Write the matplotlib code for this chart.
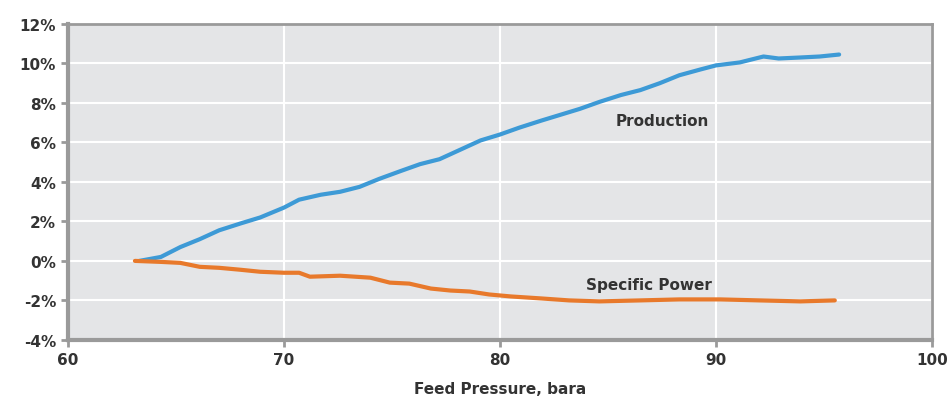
import numpy as np
import matplotlib.pyplot as plt

# feed pressure (bara) and % change
prod_x = [63.3, 64.3, 65.2, 66.1, 67.0, 68.0, 68.9, 70.0, 70.7, 71.7, 72.6, 73.5,
          74.4, 75.4, 76.3, 77.2, 78.1, 79.1, 80.0, 80.9, 81.9, 82.8, 83.7, 84.6,
          85.6, 86.5, 87.4, 88.3, 89.3, 90.0, 91.1, 92.2, 92.9, 93.9, 94.8, 95.7]
prod_y = [0.0, 0.2, 0.7, 1.1, 1.55, 1.9, 2.2, 2.7, 3.1, 3.35, 3.5, 3.75,
          4.15, 4.55, 4.9, 5.15, 5.6, 6.1, 6.4, 6.75, 7.1, 7.4, 7.7, 8.05,
          8.4, 8.65, 9.0, 9.4, 9.7, 9.9, 10.05, 10.35, 10.25, 10.3, 10.35, 10.45]

power_x = [63.1, 64.3, 65.2, 66.1, 67.0, 68.0, 68.9, 70.0, 70.7, 71.2, 72.6, 74.0,
           74.9, 75.8, 76.8, 77.7, 78.6, 79.5, 80.5, 81.9, 83.2, 84.6, 86.5, 88.3,
           90.2, 92.0, 93.9, 95.5]
power_y = [0.0, -0.05, -0.1, -0.3, -0.35, -0.45, -0.55, -0.6, -0.6, -0.8, -0.75, -0.85,
           -1.1, -1.15, -1.4, -1.5, -1.55, -1.7, -1.8, -1.9, -2.0, -2.05, -2.0, -1.95,
           -1.95, -2.0, -2.05, -2.0]

x_ticks = [60, 70, 80, 90, 100]
y_ticks = [-4, -2, 0, 2, 4, 6, 8, 10, 12]

fig = plt.figure(figsize=(9.52, 4.02), dpi=100)
ax = fig.add_axes([0.0714, 0.152, 0.9076, 0.786])
ax.set_facecolor("#e4e5e7")

ax.plot(prod_x, prod_y, color="#3d9ad6", lw=3, solid_capstyle="round", zorder=3)
ax.plot(power_x, power_y, color="#e8792b", lw=3, solid_capstyle="round", zorder=3)

ax.text(87.5, 7.1, "Production", ha="center", va="center", fontsize=11,
        fontweight="bold", color="#333333")
ax.text(86.9, -1.2, "Specific Power", ha="center", va="center", fontsize=11,
        fontweight="bold", color="#333333")

ax.set_xlim(60, 100)
ax.set_ylim(-4, 12)
ax.set_xticks(x_ticks)
ax.set_yticks(y_ticks)
ax.set_xticklabels([str(t) for t in x_ticks])
ax.set_yticklabels(["%d%%" % t for t in y_ticks])
ax.grid(True, color="white", lw=1.5, zorder=1)
ax.set_axisbelow(True)

for s in ax.spines.values():
    s.set_color("#9a9a9a")
    s.set_linewidth(2)
ax.spines["left"].set_linewidth(3)
ax.spines["bottom"].set_linewidth(3)

ax.tick_params(axis="both", colors="#9a9a9a", length=5, width=2,
               labelcolor="#333333", labelsize=11)
for lab in ax.get_xticklabels() + ax.get_yticklabels():
    lab.set_fontweight("bold")

ax.set_xlabel("Feed Pressure, bara", fontsize=11, fontweight="bold",
              color="#333333", labelpad=10)

plt.savefig("out.png", dpi=100)
